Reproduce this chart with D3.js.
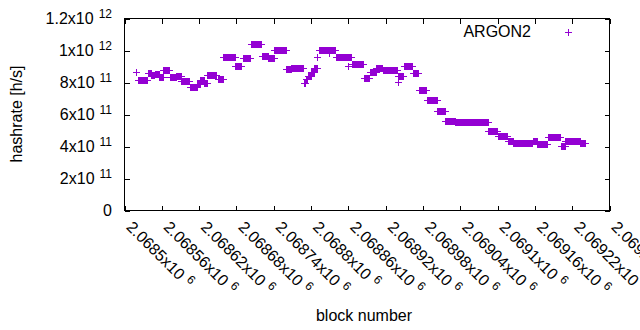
<!DOCTYPE html>
<html><head><meta charset="utf-8">
<script src="https://cdn.jsdelivr.net/npm/d3@7"></script>
<style>
body{margin:0;background:#fff}
svg{display:block}
text{font-family:"Liberation Sans",Arial,sans-serif;fill:#000}
</style>
</head><body>
<svg id="c" width="640" height="330"></svg>
<script>
// Runs of blocks with a constant hashrate (value in 1e9 h/s)
const runStart = [2068519,2068522,2068538,2068544,2068550,2068557,2068563,2068574,2068584,2068592,2068606,2068618,2068623,2068629,2068634,2068651,2068660,2068679,2068692,2068704,2068722,2068732,2068742,2068761,2068769,2068789,2068792,2068796,2068801,2068806,2068811,2068813,2068830,2068831,2068841,2068861,2068866,2068886,2068895,2068906,2068916,2068940,2068941,2068950,2068964,2068974,2068987,2069004,2069017,2069033,2069086,2069101,2069117,2069126,2069157,2069165,2069182,2069202,2069210,2069234];
const runEnd   = [2068519,2068537,2068543,2068549,2068556,2068562,2068573,2068583,2068591,2068605,2068617,2068622,2068628,2068633,2068648,2068659,2068678,2068688,2068702,2068721,2068731,2068741,2068760,2068768,2068788,2068791,2068795,2068800,2068805,2068810,2068811,2068829,2068830,2068840,2068865,2068861,2068885,2068894,2068905,2068915,2068939,2068940,2068949,2068963,2068973,2068986,2069003,2069016,2069032,2069085,2069100,2069116,2069125,2069156,2069164,2069181,2069201,2069209,2069233,2069242];
const runValue = [865,810,858,845,851,832,873,829,836,807,770,788,814,792,846,821,959,900,953,1035,963,951,1003,884,890,792,817,836,861,886,959,1003,980,1003,959,897,915,827,865,890,875,800,836,900,859,752,689,618,559,551,492,465,434,419,429,412,459,402,430,421];

const xTickValues = [2068500,2068560,2068620,2068680,2068740,2068800,2068860,2068920,2068980,2069040,2069100,2069160,2069220,2069280];
const xTickMantissa = ["2.0685","2.06856","2.06862","2.06868","2.06874","2.0688","2.06886","2.06892","2.06898","2.06904","2.0691","2.06916","2.06922","2.06928"];
const xTickExp = "6";
const yTickValues = [0,2e11,4e11,6e11,8e11,1e12,1.2e12];
const yTickMantissa = ["0","2","4","6","8","1","1.2"];
const yTickExp = ["","11","11","11","11","12","12"];
const seriesName = "ARGON2";
const xTitle = "block number";
const yTitle = "hashrate [h/s]";
const color = "#9400d3";

const L = 124.5, R = 609.5, T = 18.5, B = 210.5;
const x = d3.scaleLinear().domain([2068500, 2069280]).range([L, R]);
const y = d3.scaleLinear().domain([0, 1.2e12]).range([B, T]);
const svg = d3.select("#c");
const fs = "16px", fe = "12px";

// points
const pts = [];
runStart.forEach((s, i) => {
  for (let b = s; b <= runEnd[i]; b++) pts.push({b: b, v: runValue[i] * 1e9});
});
const h = 3.5;
svg.append("g").selectAll("path").data(pts).join("path")
  .attr("d", d => { const px = x(d.b), py = y(d.v); return `M${px-h},${py}H${px+h}M${px},${py-h}V${py+h}`; })
  .attr("stroke", color).attr("stroke-width", 1).attr("fill", "none")
  .attr("shape-rendering", "crispEdges");

// border
svg.append("rect").attr("x", L).attr("y", T).attr("width", R - L).attr("height", B - T)
  .attr("fill", "none").attr("stroke", "#000").attr("stroke-width", 1).attr("shape-rendering", "crispEdges");

// axes ticks
const tl = 5;
const gY = svg.append("g").attr("transform", `translate(${L},0)`).call(d3.axisLeft(y).tickValues(yTickValues).tickSize(-tl).tickFormat(""));
const gY2 = svg.append("g").attr("transform", `translate(${R},0)`).call(d3.axisRight(y).tickValues(yTickValues).tickSize(-tl).tickFormat(""));
const gX = svg.append("g").attr("transform", `translate(0,${B})`).call(d3.axisBottom(x).tickValues(xTickValues).tickSize(-tl).tickFormat(""));
const gX2 = svg.append("g").attr("transform", `translate(0,${T})`).call(d3.axisTop(x).tickValues(xTickValues).tickSize(-tl).tickFormat(""));
[gY, gY2, gX, gX2].forEach(g => { g.select(".domain").remove(); g.selectAll("line").attr("stroke", "#000").attr("shape-rendering", "crispEdges"); });

// y tick labels
yTickValues.forEach((v, i) => {
  const t = svg.append("text").attr("x", 112).attr("y", y(v) + 5.5).attr("text-anchor", "end").style("font-size", fs);
  t.append("tspan").text(yTickMantissa[i] + (yTickExp[i] ? "x10" : ""));
  if (yTickExp[i]) t.append("tspan").attr("dx", 5).attr("dy", -6).style("font-size", fe).text(yTickExp[i]);
});

// x tick labels
xTickValues.forEach((v, i) => {
  const t = svg.append("text").attr("transform", `translate(${x(v) + 1},228) rotate(45)`).style("font-size", fs);
  t.append("tspan").text(xTickMantissa[i] + "x10");
  t.append("tspan").attr("dx", 5).attr("dy", -6).style("font-size", fe).text(xTickExp);
});

// titles
svg.append("text").attr("transform", "translate(22,114) rotate(-90)").attr("text-anchor", "middle").style("font-size", fs).text(yTitle);
svg.append("text").attr("x", 364).attr("y", 321).attr("text-anchor", "middle").style("font-size", fs).text(xTitle);

// legend
svg.append("text").attr("x", 531).attr("y", 37).attr("text-anchor", "end").style("font-size", fs).text(seriesName);
svg.append("path").attr("d", `M${568-h},32H${568+h}M568,${32-h}V${32+h}`).attr("stroke", color).attr("stroke-width", 1).attr("shape-rendering", "crispEdges");
</script>
</body></html>
